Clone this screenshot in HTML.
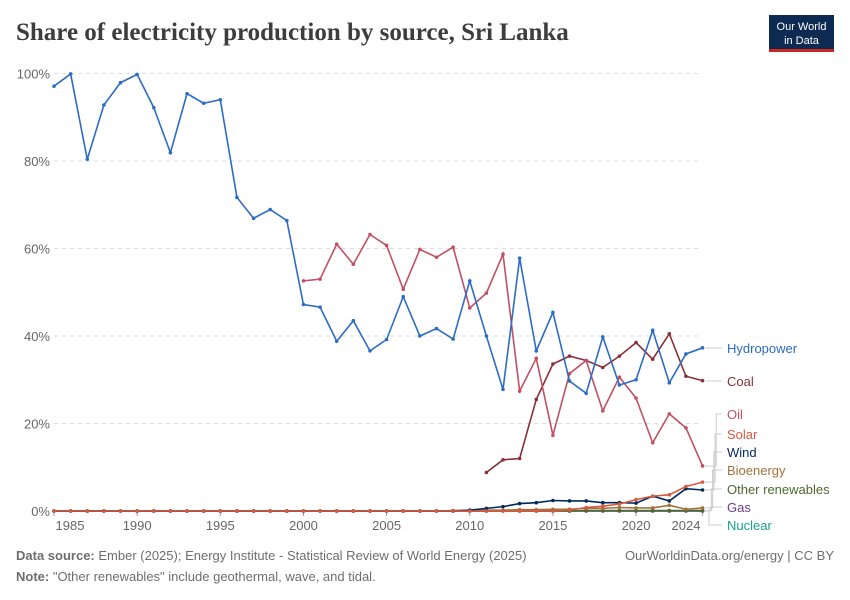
<!DOCTYPE html>
<html><head><meta charset="utf-8"><style>
body{margin:0;background:#fff;font-family:"Liberation Sans",sans-serif}
#wrap{position:relative;width:850px;height:600px;overflow:hidden}
</style></head><body>
<div id="wrap">
<svg id="svg" width="850" height="600" xmlns="http://www.w3.org/2000/svg">
<text x="16" y="40" font-family="Liberation Serif,serif" font-size="25" font-weight="bold" fill="#3d3d3d">Share of electricity production by source, Sri Lanka</text>
<g>
<rect x="769" y="15" width="65" height="36" fill="#0d2b52"/>
<rect x="769" y="49" width="65" height="3" fill="#ce261e"/>
<text x="801.5" y="30" font-size="11" fill="#fff" text-anchor="middle">Our World</text>
<text x="801.5" y="44" font-size="11" fill="#fff" text-anchor="middle">in Data</text>
</g>
<g id="grid"></g><g id="series"></g><g id="labels"></g>
<text x="16" y="560" font-size="13" fill="#6e6e6e"><tspan font-weight="bold">Data source:</tspan> Ember (2025); Energy Institute - Statistical Review of World Energy (2025)</text>
<text x="834" y="560" font-size="13" fill="#6e6e6e" text-anchor="end">OurWorldinData.org/energy | CC BY</text>
<text x="16" y="581" font-size="13" fill="#6e6e6e"><tspan font-weight="bold">Note:</tspan> "Other renewables" include geothermal, wave, and tidal.</text>
</svg></div>
<script>
const years=[];for(let y=1985;y<=2024;y++)years.push(y);
const hydro=[97.1,99.9,80.4,92.8,97.9,99.8,92.2,81.9,95.4,93.2,94,71.7,66.9,68.9,66.4,47.2,46.6,38.8,43.5,36.6,39.2,49,40,41.7,39.3,52.6,40,27.8,57.8,36.6,45.4,29.7,26.9,39.8,28.8,30,41.3,29.3,35.9,37.3];
const oilYears=[2000,2001,2002,2003,2004,2005,2006,2007,2008,2009,2010,2011,2012,2013,2014,2015,2016,2017,2018,2019,2020,2021,2022,2023,2024];
const oil=[52.6,53,61,56.4,63.2,60.7,50.7,59.8,58,60.3,46.4,49.8,58.7,27.4,34.9,17.3,31.4,34.4,22.9,30.6,25.8,15.6,22.2,19,10.3];
const coalYears=[2011,2012,2013,2014,2015,2016,2017,2018,2019,2020,2021,2022,2023,2024];
const coal=[8.8,11.7,12,25.5,33.6,35.4,34.4,32.8,35.4,38.5,34.7,40.5,30.8,29.8];
const z25=new Array(25).fill(0);
const wind=z25.concat([0.2,0.6,1,1.7,1.9,2.4,2.3,2.3,1.9,1.9,1.8,3.4,2.3,5.1,4.8]);
const solar=z25.concat([0,0,0,0,0,0,0.2,0.8,1.1,1.6,2.6,3.4,3.7,5.6,6.6]);
const bio=new Array(24).fill(0).concat([0.1,0.2,0.2,0.2,0.3,0.3,0.4,0.4,0.6,0.6,0.8,0.7,0.7,1.3,0.4,0.7]);
const otherRen=new Array(32).fill(0).concat([0.1,0.1,0.1,0.1,0.1,0.1,0.1,0.1]);
const gas=new Array(40).fill(0);
const nuclear=new Array(40).fill(0);
const yTicks=[0,20,40,60,80,100];
const xTicks=[1985,1990,1995,2000,2005,2010,2015,2020,2024];

const X=y=>54+(y-1985)*16.63, Y=v=>511-v*4.375;
const NS='http://www.w3.org/2000/svg';
function mk(tag,attrs,parent){const e=document.createElementNS(NS,tag);for(const k in attrs)e.setAttribute(k,attrs[k]);parent.appendChild(e);return e;}
const grid=document.getElementById('grid'),ser=document.getElementById('series'),lab=document.getElementById('labels');
yTicks.forEach(t=>{
 const l=mk('line',{x1:54,x2:702,y1:Y(t),y2:Y(t),stroke:t?'#ddd':'#999','stroke-dasharray':t?'4,4':'none'},grid);
 
 
 const tx=mk('text',{x:50,y:Y(t)+5,'font-size':13,fill:'#666','text-anchor':'end'},grid);tx.textContent=t+'%';
 
 
});
xTicks.forEach(t=>{
 let x=X(t);if(t===1985)x=70;if(t===2024)x=686;
 mk('line',{x1:X(t),x2:X(t),y1:511,y2:516,stroke:'#999'},grid);
 const tx=mk('text',{x:x,y:530,'font-size':13,fill:'#666','text-anchor':'middle'},grid);tx.textContent=t;
 
 
});
function draw(name,xs,vs,color){
 const g=mk('g',{},ser);
 
 
 mk('polyline',{points:xs.map((y,i)=>X(y)+','+Y(vs[i])).join(' '),fill:'none',stroke:color,'stroke-width':1.6},g);
 xs.forEach((y,i)=>{const c=mk('circle',{cx:X(y),cy:Y(vs[i]),r:1.8,fill:color},g);
 
 });
}
draw('nuclear',years,nuclear,'#18a38f');
draw('gas',years,gas,'#6d3e91');
draw('other-renewables',years,otherRen,'#4c6a2f');
draw('bioenergy',years,bio,'#a2723a');
draw('wind',years,wind,'#00295b');
draw('solar',years,solar,'#d9583e');
draw('coal',coalYears,coal,'#883039');
draw('oil',oilYears,oil,'#c15065');
draw('hydropower',years,hydro,'#2c6cc4');
const legend=[['Hydropower',348,'#2c6cc4',hydro[39]],['Coal',381,'#883039',coal[13]],['Oil',414,'#c15065',oil[24]],['Solar',434,'#d9583e',solar[39]],['Wind',452,'#00295b',wind[39]],['Bioenergy',470,'#a2723a',bio[39]],['Other renewables',489,'#4c6a2f',otherRen[39]],['Gas',507,'#6d3e91',0],['Nuclear',525,'#18a38f',0]];
legend.forEach((l,i)=>{
 const g=mk('g',{},lab);
 
 
 const ys=Y(l[3]);
 if(i<2) mk('line',{x1:706,x2:722,y1:l[1],y2:l[1],stroke:'#ccc'},g);
 else {const mx=709+ (8-i)*1.2; mk('polyline',{points:`705,${ys} ${mx},${ys} ${mx},${l[1]} 722,${l[1]}`,fill:'none',stroke:'#ccc'},g);}
 const t=mk('text',{x:727,y:l[1]+5,'font-size':13,fill:l[2]},g);t.textContent=l[0];
});
</script>
</body></html>
